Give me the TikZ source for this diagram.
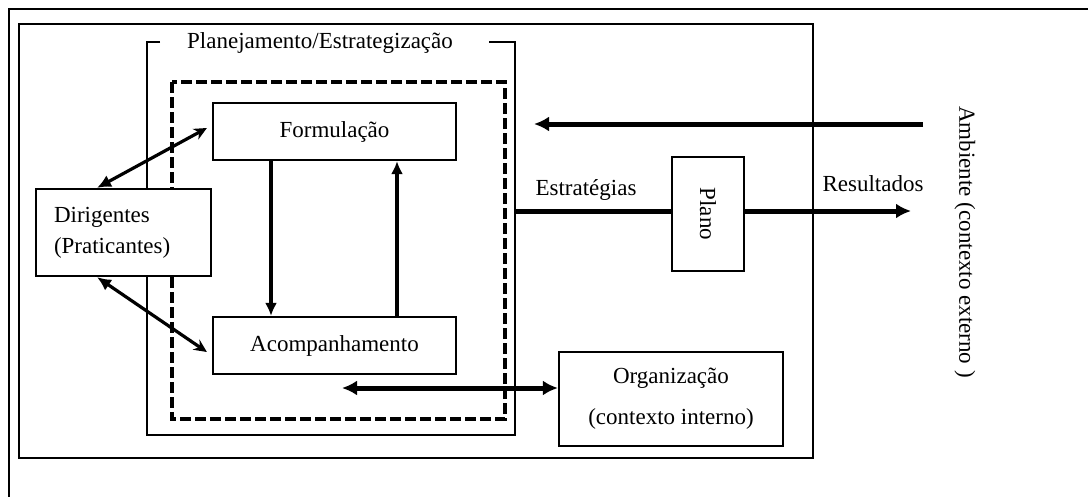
\documentclass[tikz,border=0pt]{standalone}
\usepackage{fontspec}
\setmainfont{Liberation Serif}
\usetikzlibrary{arrows.meta}
\newcommand\dfont{\fontsize{23}{31}\selectfont}
\begin{document}
\begin{tikzpicture}[x=1pt,y=-1pt,
  frame/.style={draw,line width=2.2pt},
  box/.style={draw,fill=white,line width=2.2pt,inner sep=0pt,align=center,font=\dfont},
  lbl/.style={inner sep=0pt,font=\dfont},
  thickarrow/.style={line width=5pt,-{Latex[length=15pt,width=15pt]}},
  thickboth/.style={line width=5pt,{Latex[length=15pt,width=15pt]}-{Latex[length=15pt,width=15pt]}},
  midarrow/.style={line width=4pt,-{Latex[length=13pt,width=12pt]}},
  diagarrow/.style={line width=3.2pt,{Latex[length=14pt,width=13pt]}-{Stealth[length=13pt,width=12pt]}}]
\useasboundingbox (0,0) rectangle (1088,496);
\fill[white] (0,0) rectangle (1088,496);
% outer frames
\draw[line width=2.5pt] (9,500) -- (9,9) -- (1095,9);
\draw[frame] (19,24) rectangle (813,458);
% Planejamento bracket frame
\node[lbl] (plan) at (320,43) {Planejamento/Estrategização};
\draw[frame] (160,42) -- (147,42) -- (147,435) -- (515,435) -- (515,42) -- (489,42);
% dashed frame
\draw[line width=3.5pt,dash pattern=on 11pt off 4pt] (172,82) rectangle (505,419);
% boxes
\node[box,minimum width=243pt,minimum height=57pt] (form) at (334.5,131.5) {Formulação};
\node[box,minimum width=243pt,minimum height=57pt] (acomp) at (334.5,345.5) {Acompanhamento};
\node[box,minimum width=175pt,minimum height=87pt,inner xsep=18pt,text width=139pt,align=left] (dir) at (123.5,232.5) {Dirigentes\\(Praticantes)};
\node[box,minimum width=72pt,minimum height=114pt] (plano) at (708,214) {};
\node[lbl,rotate=-90] (planotxt) at (plano.center) {Plano};
\node[box,minimum width=224pt,minimum height=94pt,font=\fontsize{23}{41}\selectfont] (org) at (671,399) {Organização\\(contexto interno)};
\node[lbl,rotate=-90] (amb) at (965,242) {Ambiente (contexto externo )};
\node[lbl] (estr) at (586,190) {Estratégias};
\node[lbl] (res) at (873,184) {Resultados};
% coordinates
\coordinate (xdown) at (271,0);
\coordinate (xup) at (397,0);
\coordinate (ambstart) at (923,124);
\coordinate (ambend) at (534,124);
\coordinate (estrstart) at (515,211);
\coordinate (resend) at (911,211);
\coordinate (orgend) at (342,388);
% connectors
\draw[midarrow] (form.south -| xdown) -- (acomp.north -| xdown);
\draw[midarrow] (acomp.north -| xup) -- (form.south -| xup);
\draw[diagarrow] ([xshift=-26.5pt]dir.north) -- ([xshift=-5pt,yshift=3.5pt]form.west);
\draw[diagarrow] ([xshift=-26.5pt]dir.south) -- ([xshift=-5pt,yshift=-6.5pt]acomp.west);
\draw[thickarrow] (ambstart) -- (ambend);
\draw[line width=5pt] (estrstart) -- (plano.west |- estrstart);
\draw[thickarrow] (plano.east |- resend) -- (resend);
\draw[thickboth] (orgend) -- (org.west |- orgend);
\end{tikzpicture}
\end{document}
